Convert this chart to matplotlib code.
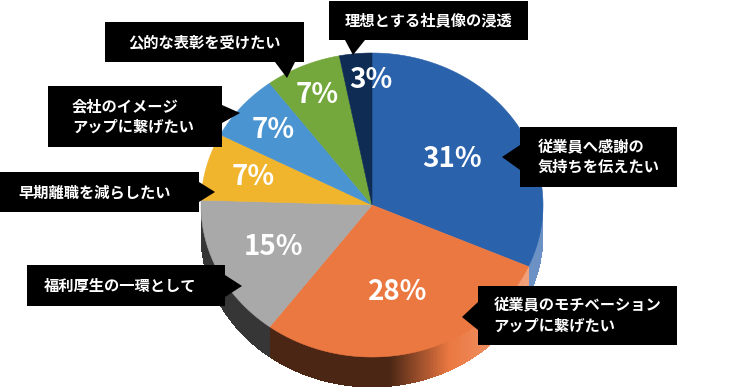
import matplotlib
matplotlib.use("Agg")
import matplotlib.pyplot as plt
import matplotlib.colors as mcolors
from matplotlib.patches import Polygon
import numpy as np

plt.rcParams['font.family'] = ['Noto Sans CJK JP', 'DejaVu Sans']

# data (clockwise from 12 o'clock)
values = [31, 28, 15, 7, 7, 7, 3]
pct_labels = ['31%', '28%', '15%', '7%', '7%', '7%', '3%']
reasons = ['従業員へ感謝の\n気持ちを伝えたい',
           '従業員のモチベーション\nアップに繋げたい',
           '福利厚生の一環として',
           '早期離職を減らしたい',
           '会社のイメージ\nアップに繋げたい',
           '公的な表彰を受けたい',
           '理想とする社員像の浸透']
colors = ['#2B62AC', '#EB7841', '#A9A9A9', '#F0B42D', '#4A94D2', '#75A83C', '#0F2C54']

# pie geometry in pixels
cx, cy = 372, 205
rx, ry = 171, 152
depth = 30


def pt(a, r=1.0, dy=0.0):
    a = np.radians(a)
    return cx + r * rx * np.sin(a), cy - r * ry * np.cos(a) + dy


def side_color(c, t):
    rgb = np.array(mcolors.to_rgb(c))
    if t < 0.1:
        k = 0.32
    elif t < 0.45:
        k = 0.32 + (t - 0.1) / 0.35 * 0.68
    else:
        k = 1.0
    rgb = rgb * k
    if t > 0.45:
        w = min((t - 0.45) / 0.45, 1.0) * 0.3
        rgb = rgb + (1 - rgb) * w
    return rgb


fig = plt.figure(figsize=(7.46, 3.91), dpi=100)
ax = fig.add_axes([0, 0, 1, 1])
ax.set_xlim(0, 746)
ax.set_ylim(391, 0)
ax.axis('off')

total = sum(values)
bounds = np.concatenate([[0], np.cumsum(values)]) / total * 360

# side of the cylinder (front half only)
for i, c in enumerate(colors):
    a0, a1 = max(bounds[i], 90), min(bounds[i + 1], 270)
    if a1 <= a0:
        continue
    steps = np.append(np.arange(a0, a1, 0.5), a1)
    xs, ys = pt(steps)
    # whole band underneath so strip seams don't show white
    band = list(zip(xs, ys)) + list(zip(xs[::-1], ys[::-1] + depth))
    mid_col = side_color(c, np.sin(np.radians((a0 + a1) / 2)))
    ax.add_patch(Polygon(band, closed=True, facecolor=mid_col, edgecolor='none'))
    for j in range(len(steps) - 1):
        col = side_color(c, np.sin(np.radians((steps[j] + steps[j + 1]) / 2)))
        quad = [(xs[j], ys[j]), (xs[j + 1], ys[j + 1]),
                (xs[j + 1], ys[j + 1] + depth), (xs[j], ys[j] + depth)]
        ax.add_patch(Polygon(quad, closed=True, facecolor=col, edgecolor='none',
                             antialiased=False))

# top face
for i, c in enumerate(colors):
    ang = np.linspace(bounds[i], bounds[i + 1], 100)
    xs, ys = pt(ang)
    verts = [(cx, cy)] + list(zip(xs, ys))
    ax.add_patch(Polygon(verts, closed=True, facecolor=c, edgecolor=c, lw=0.4))

# percentage labels
label_r = [0.56, 0.59, 0.64, 0.72, 0.76, 0.79, 0.82]
label_da = [0, 0, 0, 0, 0, 0, 5]
for i, lab in enumerate(pct_labels):
    mid = (bounds[i] + bounds[i + 1]) / 2 + label_da[i]
    x, y = pt(mid, label_r[i])
    ax.text(x, y, lab, color='white', fontsize=20, fontweight='bold',
            ha='center', va='center')

# callout boxes: (x0, y0, x1, y1, side, base0, base1, tip, text dx)
boxes = [
    (520, 127, 677, 187, 'left', 145, 170, (502, 157), 0),
    (478, 286, 677, 345, 'left', 302, 330, (462, 317), 0),
    (27, 265, 225, 306, 'right', 275, 297, (242, 286), -6),
    (0, 172, 199, 212, 'right', 182, 202, (215, 192), -5),
    (48, 86, 222, 147, 'right', 105, 123, (240, 113), -2),
    (105, 22, 304, 62, 'bottom', 275, 295, (287, 78), 0),
    (329, 1, 528, 40, 'bottom', 345, 365, (353, 55), 0),
]
for txt, (x0, y0, x1, y1, side, b0, b1, tip, tdx) in zip(reasons, boxes):
    if side == 'left':
        verts = [(x0, y0), (x1, y0), (x1, y1), (x0, y1), (x0, b1), tip, (x0, b0)]
    elif side == 'right':
        verts = [(x0, y0), (x1, y0), (x1, b0), tip, (x1, b1), (x1, y1), (x0, y1)]
    else:
        verts = [(x0, y0), (x1, y0), (x1, y1), (b1, y1), tip, (b0, y1), (x0, y1)]
    ax.add_patch(Polygon(verts, closed=True, facecolor='black', edgecolor='none'))
    ax.text((x0 + x1) / 2 + tdx, (y0 + y1) / 2, txt, color='white', fontsize=11,
            fontweight='bold', ha='center', va='center', multialignment='left',
            linespacing=1.3)

fig.savefig('out.png', dpi=100, facecolor='white')
